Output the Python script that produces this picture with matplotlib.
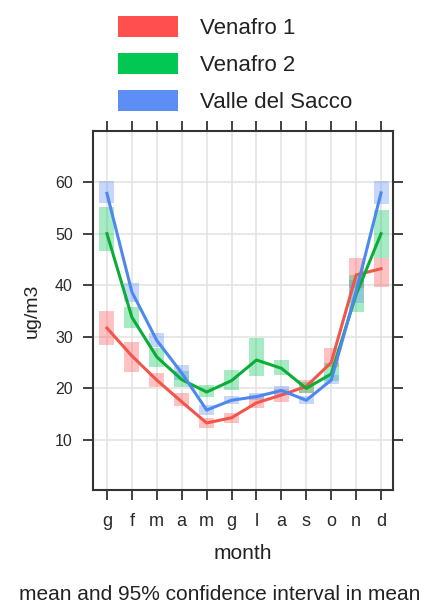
import matplotlib
matplotlib.use("Agg")
import matplotlib.pyplot as plt
from matplotlib.patches import Patch

plt.rcParams["font.family"] = ["Liberation Sans", "DejaVu Sans"]

# monthly means and 95% confidence bounds (ug/m3)
months = ["g", "f", "m", "a", "m", "g", "l", "a", "s", "o", "n", "d"]

venafro1_mean = [31.7, 26.3, 21.6, 17.4, 13.3, 14.3, 17.2, 18.7, 20.4, 25.0, 42.0, 43.2]
venafro1_low = [28.4, 23.2, 20.2, 16.6, 12.3, 13.3, 16.2, 17.4, 19.2, 24.1, 39.4, 39.6]
venafro1_high = [35.1, 29.0, 23.0, 19.1, 14.3, 15.3, 18.7, 19.8, 21.6, 27.8, 45.2, 45.3]

venafro2_mean = [50.0, 33.8, 26.1, 21.7, 19.3, 21.5, 25.5, 23.9, 20.0, 22.8, 38.2, 50.0]
venafro2_low = [46.7, 31.7, 24.2, 20.3, 18.4, 19.7, 22.4, 22.5, 19.2, 21.4, 34.8, 45.3]
venafro2_high = [55.1, 35.8, 27.8, 23.3, 20.6, 23.5, 29.7, 25.5, 21.3, 24.9, 41.9, 54.6]

sacco_mean = [57.8, 38.7, 29.3, 23.0, 15.8, 17.7, 18.4, 19.6, 17.7, 21.6, 38.8, 57.9]
sacco_low = [56.0, 36.7, 28.0, 21.6, 14.9, 17.0, 17.7, 18.7, 16.9, 20.8, 36.6, 55.8]
sacco_high = [60.3, 40.4, 30.7, 24.6, 16.8, 18.5, 19.2, 20.4, 18.6, 22.6, 41.0, 60.3]

series = [
    ("Venafro 1", venafro1_mean, venafro1_low, venafro1_high, "#f0564a", "#ff4f4f"),
    ("Venafro 2", venafro2_mean, venafro2_low, venafro2_high, "#0aad36", "#00c853"),
    ("Valle del Sacco", sacco_mean, sacco_low, sacco_high, "#4d88ee", "#5c8ef5"),
]

fig = plt.figure(figsize=(4.29, 6.06), dpi=100)
ax = fig.add_axes([93 / 429, 1 - 490 / 606, 300 / 429, 359 / 606])

x = list(range(len(months)))
box_w = 0.6
for name, mean, low, high, line_col, key_col in series:
    heights = [h - l for l, h in zip(low, high)]
    ax.bar(x, heights, bottom=low, width=box_w, color=key_col, alpha=0.35,
           linewidth=0, zorder=2)
    ax.plot(x, mean, color=line_col, lw=2.2, zorder=3, solid_joinstyle="round")

ax.set_xlim(-0.56, 11.48)
ax.set_ylim(0.3, 69.9)
ax.set_xticks(x)
ax.set_xticklabels(months)
ax.set_yticks([10, 20, 30, 40, 50, 60])
ax.grid(color="#e2e2e2", lw=1.1, zorder=0)
ax.set_axisbelow(True)

for sp in ax.spines.values():
    sp.set_color("#333333")
    sp.set_linewidth(1.5)
ax.tick_params(direction="out", length=7.5, width=1.3, color="#333333",
               top=True, right=True, labelcolor="#2a2a2a")
ax.tick_params(axis="y", labelsize=11.5, pad=7)
ax.tick_params(axis="x", labelsize=13, pad=9)

ax.set_ylabel("ug/m3", fontsize=14, color="#222222", labelpad=10)
ax.set_xlabel("month", fontsize=15, color="#222222", labelpad=10)
fig.text(220 / 429, 1 - 595 / 606, "mean and 95% confidence interval in mean",
         ha="center", va="center", fontsize=15, color="#222222")

handles = [Patch(facecolor=s[5], label=s[0]) for s in series]
fig.legend(handles=handles, loc="upper left", bbox_to_anchor=(118 / 429, 1 - 16 / 606),
           frameon=False, fontsize=16, handlelength=2.7, handleheight=1.05,
           handletextpad=1.0, labelspacing=0.64, borderpad=0, borderaxespad=0,
           labelcolor="#222222")

fig.savefig("out.png", dpi=100)
